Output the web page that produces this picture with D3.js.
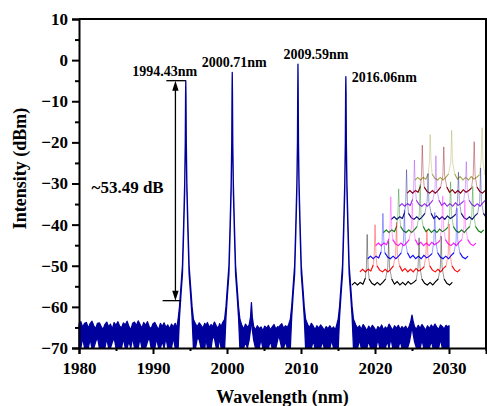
<!DOCTYPE html>
<html>
<head>
<meta charset="utf-8">
<script src="https://cdn.jsdelivr.net/npm/d3@7"></script>
<style>
  html, body { margin: 0; padding: 0; background: #fff; }
  svg { display: block; font-family: "Liberation Serif", "Times New Roman", serif; font-weight: bold; }
</style>
</head>
<body>
<div id="chart"></div>
<script>
// Tm fiber laser output: four-wavelength spectrum, with a small waterfall inset
// of repeated scans in the upper right.

const xTicks = [1980, 1990, 2000, 2010, 2020, 2030];
const xMinor = [1985, 1995, 2005, 2015, 2025, 2035];
const yTicks = [10, 0, -10, -20, -30, -40, -50, -60, -70];
const yMinor = [5, -5, -15, -25, -35, -45, -55, -65];

// peaks: wavelength, top level, label
const peakWl = [1994.43, 2000.71, 2009.59, 2016.06];
const peakDb = [-5, -3, -1, -4];
const peakLabels = ["1994.43nm", "2000.71nm", "2009.59nm", "2016.06nm"];

// extinction annotation (arrow between -5 and -58.49 dBm)
const snrTop = -5;
const snrBottom = -58.49;
const snrText = "~53.49 dB";

// spectrum trace: [wavelength, upper envelope, lower envelope] (dBm)
const spectrum = [
  [1980.00,-64.2,-70],[1980.25,-63.6,-70],[1980.50,-65.0,-67.5],[1980.75,-64.0,-70],
  [1981.00,-63.8,-70],[1981.25,-65.2,-70],[1981.50,-64.1,-67.8],[1981.75,-63.5,-70],
  [1982.00,-64.6,-70],[1982.25,-65.3,-68.5],[1982.50,-64.0,-67.4],[1982.75,-63.9,-70],
  [1983.00,-64.8,-70],[1983.25,-65.5,-70],[1983.50,-64.3,-70],[1983.75,-63.7,-67.6],
  [1984.00,-64.9,-70],[1984.25,-64.2,-70],[1984.50,-65.4,-68.6],[1984.75,-63.8,-67.5],
  [1985.00,-64.5,-70],[1985.25,-63.6,-70],[1985.50,-64.7,-70],[1985.75,-65.1,-70],
  [1986.00,-63.9,-67.6],[1986.25,-64.4,-70],[1986.50,-63.5,-70],[1986.75,-64.8,-68.4],
  [1987.00,-65.6,-70],[1987.25,-64.0,-67.4],[1987.50,-63.7,-70],[1987.75,-64.6,-70],
  [1988.00,-63.4,-70],[1988.25,-64.3,-67.6],[1988.50,-65.2,-70],[1988.75,-63.8,-70],
  [1989.00,-64.5,-70],[1989.25,-63.6,-68.5],[1989.50,-64.9,-67.4],[1989.75,-65.3,-70],
  [1990.00,-64.1,-70],[1990.25,-63.8,-70],[1990.50,-64.7,-67.6],[1990.75,-65.6,-70],
  [1991.00,-64.0,-70],[1991.25,-64.8,-68.4],[1991.50,-63.9,-70],[1991.75,-65.0,-67.5],
  [1992.00,-64.4,-70],[1992.25,-65.4,-70],[1992.50,-64.2,-70],[1992.75,-64.9,-67.4],
  [1993.00,-64.0,-70],[1993.20,-65.2,-70],
  // peak 1994.43
  [1993.40,-63.0,-70],[1993.58,-60.0,-62.5],[1993.78,-55.0,-57],[1993.98,-50.0,-52],
  [1994.14,-40.0,-42],[1994.28,-30.0,-32],[1994.36,-20.0,-22],[1994.40,-9.0,-11],
  [1994.43,-5.0,-6],[1994.46,-9.0,-11],[1994.50,-20.0,-22],[1994.58,-30.0,-32],
  [1994.72,-40.0,-42],[1994.88,-50.0,-52],[1995.08,-55.0,-57],[1995.28,-60.0,-62.5],
  [1995.46,-63.0,-70],[1995.75,-64.2,-70],
  [1996.00,-64.8,-67.5],[1996.25,-63.9,-68.0],[1996.50,-64.5,-70],[1996.75,-65.2,-70],
  [1997.00,-64.0,-70],[1997.15,-64.6,-67.4],[1997.35,-63.8,-70],[1997.60,-65.0,-70],
  [1997.85,-64.3,-70],[1998.05,-64.9,-67.4],[1998.30,-63.7,-67.6],[1998.55,-64.6,-70],
  [1998.80,-65.3,-70],[1999.00,-64.1,-67.5],[1999.20,-64.8,-70],[1999.40,-63.9,-70],
  // peak 2000.71
  [1999.68,-63.0,-70],[1999.86,-60.0,-62.5],[2000.06,-55.0,-57],[2000.26,-50.0,-52],
  [2000.42,-40.0,-42],[2000.56,-30.0,-32],[2000.64,-20.0,-22],[2000.68,-8.0,-10],
  [2000.71,-3.0,-4],[2000.74,-8.0,-10],[2000.78,-20.0,-22],[2000.86,-30.0,-32],
  [2001.00,-40.0,-42],[2001.16,-50.0,-52],[2001.36,-55.0,-57],[2001.56,-60.0,-62.5],
  [2001.74,-63.0,-70],
  [2002.00,-64.5,-70],[2002.25,-65.4,-70],[2002.50,-64.2,-68.5],[2002.75,-65.0,-70],
  [2003.00,-64.4,-68.0],[2003.18,-62.5,-65.5],[2003.30,-59.0,-62.0],[2003.42,-62.5,-65.5],
  [2003.60,-64.8,-68.0],[2003.85,-65.6,-70],[2004.10,-64.6,-70],[2004.35,-65.3,-70],
  [2004.60,-64.9,-67.8],[2004.85,-65.8,-70],[2005.10,-64.7,-70],[2005.35,-65.2,-70],
  [2005.60,-64.5,-70],[2005.85,-65.6,-68.2],[2006.10,-64.9,-70],[2006.35,-64.3,-70],
  [2006.60,-65.4,-70],[2006.85,-64.8,-68.0],[2007.00,-65.0,-66.8],[2007.15,-64.6,-68.0],
  [2007.40,-64.1,-70],[2007.65,-65.2,-70],[2007.90,-64.6,-68.4],[2008.15,-65.0,-70],
  [2008.35,-64.2,-70],
  // peak 2009.59
  [2008.56,-63.0,-70],[2008.74,-60.0,-62.5],[2008.94,-55.0,-57],[2009.14,-50.0,-52],
  [2009.30,-40.0,-42],[2009.44,-30.0,-32],[2009.52,-20.0,-22],[2009.56,-7.0,-9],
  [2009.59,-1.0,-2],[2009.62,-7.0,-9],[2009.66,-20.0,-22],[2009.74,-30.0,-32],
  [2009.88,-40.0,-42],[2010.04,-50.0,-52],[2010.24,-55.0,-57],[2010.44,-60.0,-62.5],
  [2010.62,-63.0,-70],
  [2010.90,-64.3,-70],[2011.15,-65.1,-70],[2011.40,-64.0,-70],[2011.65,-64.7,-68.2],
  [2011.90,-65.5,-70],[2012.15,-64.6,-70],[2012.40,-65.2,-70],[2012.65,-64.4,-70],
  [2012.90,-65.0,-68.4],[2013.15,-65.7,-70],[2013.40,-64.8,-70],[2013.65,-65.3,-70],
  [2013.90,-64.6,-70],[2014.15,-65.4,-68.0],[2014.40,-64.9,-70],[2014.65,-65.6,-70],
  // peak 2016.06
  [2015.03,-63.0,-70],[2015.21,-60.0,-62.5],[2015.41,-55.0,-57],[2015.61,-50.0,-52],
  [2015.77,-40.0,-42],[2015.91,-30.0,-32],[2015.99,-20.0,-22],[2016.03,-8.0,-10],
  [2016.06,-4.0,-5],[2016.09,-8.0,-10],[2016.13,-20.0,-22],[2016.21,-30.0,-32],
  [2016.35,-40.0,-42],[2016.51,-50.0,-52],[2016.71,-55.0,-57],[2016.91,-60.0,-62.5],
  [2017.09,-63.0,-70],
  [2017.40,-64.4,-70],[2017.65,-65.2,-70],[2017.90,-64.6,-68.0],[2018.15,-65.5,-70],
  [2018.40,-64.3,-70],[2018.65,-65.0,-70],[2018.90,-65.8,-70],[2019.15,-64.7,-68.2],
  [2019.40,-65.4,-70],[2019.65,-64.5,-70],[2019.90,-65.1,-70],[2020.15,-65.9,-70],
  [2020.40,-64.8,-67.8],[2020.65,-65.3,-70],[2020.90,-64.4,-70],[2021.15,-65.6,-70],
  [2021.40,-64.9,-70],[2021.65,-65.4,-68.3],[2021.90,-64.2,-70],[2022.15,-65.0,-67.6],
  [2022.40,-65.7,-70],[2022.65,-64.6,-70],[2022.90,-65.2,-70],[2023.15,-64.5,-70],
  [2023.40,-65.5,-68.2],[2023.65,-64.8,-70],[2023.90,-65.3,-70],[2024.15,-64.7,-70],
  [2024.40,-65.6,-70],[2024.65,-64.6,-68.5],[2024.85,-63.4,-66.5],[2025.00,-62.0,-64.5],
  [2025.15,-63.5,-66.5],[2025.35,-64.9,-68.5],[2025.60,-65.4,-70],[2025.85,-64.5,-70],
  [2026.10,-65.2,-70],[2026.35,-64.3,-68.0],[2026.60,-65.0,-70],[2026.85,-65.7,-70],
  [2027.10,-64.6,-70],[2027.35,-65.3,-70],[2027.60,-64.4,-68.2],[2027.85,-65.1,-70],
  [2028.10,-64.2,-70],[2028.35,-64.9,-70],[2028.60,-65.5,-70],[2028.85,-64.4,-67.8],
  [2029.10,-64.8,-70],[2029.35,-65.4,-70],[2029.60,-64.5,-70],[2029.85,-64.9,-70],
  [2030.00,-64.6,-70]
];

// inset: repeated scans, each with the same floor and its own peak levels
const insetFloor = [
  [1990.0,-63],[1990.8,-60],[1991.6,-63],[1992.4,-60],[1993.2,-62],[1993.9,-55],[1994.2,-42],
  [1994.7,-42],[1995.0,-56],[1995.8,-61],[1996.6,-63],[1997.4,-60],[1998.2,-63],[1999.0,-60],
  [1999.8,-56],[2000.45,-42],[2000.95,-42],[2001.6,-56],[2002.4,-62],[2003.2,-59],[2004.0,-63],
  [2004.8,-60],[2005.6,-63],[2006.4,-59],[2007.2,-62],[2008.0,-60],[2008.8,-57],[2009.3,-42],
  [2009.85,-42],[2010.4,-56],[2011.2,-61],[2012.0,-63],[2012.8,-60],[2013.6,-63],[2014.4,-59],
  [2015.2,-56],[2015.8,-42],[2016.3,-42],[2016.9,-56],[2017.7,-61],[2018.5,-63],[2019.3,-60]
];
const insetPeakDb = [
  [-4, -12, -8, -6],
  [-8, -5, -14, -7],
  [-10, -6, -9, -4],
  [-6, -13, -5, -10],
  [-12, -7, -4, -9],
  [-5, -10, -8, -3],
  [-9, -4, -11, -6],
  [-7, -9, -3, -12],
  [-10, -5, -2, -8]
];
const insetColors = ["#000000", "#ff1010", "#1010ff", "#ff20ff", "#108010",
                     "#101080", "#9a30f0", "#900010", "#a8a850"];

const W = 487, H = 406;
const margin = { top: 19, right: 1, bottom: 58, left: 79 };
const blue = "#00009c";

const x = d3.scaleLinear().domain([1980, 2035]).range([margin.left, W - margin.right]);
const y = d3.scaleLinear().domain([-70, 10]).range([H - margin.bottom, margin.top]);

const svg = d3.select("#chart").append("svg").attr("width", W).attr("height", H);

svg.append("defs").append("clipPath").attr("id", "plotclip")
  .append("rect")
  .attr("x", x(1980)).attr("y", y(10))
  .attr("width", x(2035) - x(1980)).attr("height", y(-70) - y(10));

// spectrum
const band = d3.area()
  .x((d) => x(d[0]))
  .y0((d) => y(d[2]))
  .y1((d) => y(d[1]));
svg.append("path")
  .datum(spectrum)
  .attr("d", band)
  .attr("fill", blue)
  .attr("stroke", blue)
  .attr("stroke-width", 1.3)
  .attr("stroke-linejoin", "round");

// inset waterfall (pale peaks, solid floor)
const ix = d3.scaleLinear().domain([1990, 2019.5]).range([0, 101]);
const iy = d3.scaleLinear().domain([-63, 0]).range([0, -54]);
const ox = d3.scaleLinear().domain([0, 8]).range([352, 415]);
const oy = d3.scaleLinear().domain([0, 8]).range([285, 180]);
const insetLine = d3.line().x((d) => ix(d[0])).y((d) => iy(d[1]));
const floorLine = d3.line().defined((d) => d[1] < -50).x((d) => ix(d[0])).y((d) => iy(d[1]));

const inset = svg.append("g").attr("clip-path", "url(#plotclip)");
for (let i = insetPeakDb.length - 1; i >= 0; i--) {
  const pts = insetFloor.concat(peakWl.map((w, k) => [w, insetPeakDb[i][k]]))
    .sort((a, b) => a[0] - b[0]);
  const g = inset.append("g").attr("transform", `translate(${ox(i)},${oy(i)})`);
  g.append("path")
    .datum(pts)
    .attr("d", insetLine)
    .attr("fill", "none")
    .attr("stroke", insetColors[i])
    .attr("stroke-opacity", 0.45)
    .attr("stroke-width", 0.9);
  g.append("path")
    .datum(pts)
    .attr("d", floorLine)
    .attr("fill", "none")
    .attr("stroke", insetColors[i])
    .attr("stroke-width", 1.1);
}

// axes
svg.append("g").attr("transform", `translate(${x(1980)},0)`)
  .call(d3.axisLeft(y).tickValues(yTicks).tickSize(7).tickPadding(4).tickFormat(d3.format("d")));
svg.append("g").attr("transform", `translate(${x(1980)},0)`)
  .call(d3.axisLeft(y).tickValues(yMinor).tickSize(4).tickFormat(""))
  .call((g) => g.select(".domain").remove());
svg.append("g").attr("transform", `translate(0,${y(-70)})`)
  .call(d3.axisBottom(x).tickValues(xTicks).tickSize(6).tickPadding(8).tickFormat(d3.format("d")));
svg.append("g").attr("transform", `translate(0,${y(-70)})`)
  .call(d3.axisBottom(x).tickValues(xMinor).tickSize(3).tickFormat(""))
  .call((g) => g.select(".domain").remove());

svg.selectAll(".tick line").attr("stroke", "#000").attr("stroke-width", 2);
svg.selectAll(".domain").attr("stroke", "#000").attr("stroke-width", 2);
svg.selectAll(".tick text")
  .attr("fill", "#000")
  .attr("font-size", 17)
  .attr("font-weight", "bold")
  .attr("font-family", "Liberation Serif, Times New Roman, serif");

// frame (top + right)
svg.append("path")
  .attr("d", `M${x(1980)},${y(10)}H${x(2035)}V${y(-70)}`)
  .attr("fill", "none")
  .attr("stroke", "#000")
  .attr("stroke-width", 2);

// axis titles
svg.append("text")
  .attr("x", (x(1980) + x(2035)) / 2)
  .attr("y", 403)
  .attr("text-anchor", "middle")
  .attr("font-size", 18)
  .text("Wavelength (nm)");
svg.append("text")
  .attr("transform", `translate(26,${(y(10) + y(-70)) / 2 - 15}) rotate(-90)`)
  .attr("text-anchor", "middle")
  .attr("font-size", 18)
  .text("Intensity (dBm)");

// peak labels
svg.append("g")
  .selectAll("text")
  .data(peakLabels)
  .join("text")
  .attr("x", (d, i) => (i === 3 ? x(peakWl[i]) + 6 : x(peakWl[i]) - [21, -2, -18][i]))
  .attr("y", (d, i) => (i === 3 ? y(peakDb[i]) + 5 : y(peakDb[i]) - 5))
  .attr("text-anchor", (d, i) => (i === 3 ? "start" : "middle"))
  .attr("font-size", 14)
  .text((d) => d);

// extinction-ratio arrow
const ax = x(1993.03);
const ann = svg.append("g").attr("stroke", "#000").attr("stroke-width", 1.3);
ann.append("line").attr("x1", x(1991.8)).attr("x2", x(1994.43)).attr("y1", y(snrTop)).attr("y2", y(snrTop));
ann.append("line").attr("x1", x(1991.3)).attr("x2", x(1993.8)).attr("y1", y(snrBottom)).attr("y2", y(snrBottom));
ann.append("line").attr("x1", ax).attr("x2", ax).attr("y1", y(snrTop) + 6).attr("y2", y(snrBottom) - 6);
ann.append("path")
  .attr("d", `M${ax},${y(snrTop)}l-3.2,10h6.4z M${ax},${y(snrBottom)}l-3.2,-10h6.4z`)
  .attr("fill", "#000").attr("stroke", "none");
svg.append("text")
  .attr("x", x(1981.7))
  .attr("y", y(-32.3))
  .attr("font-size", 17)
  .text(snrText);
</script>
</body>
</html>
